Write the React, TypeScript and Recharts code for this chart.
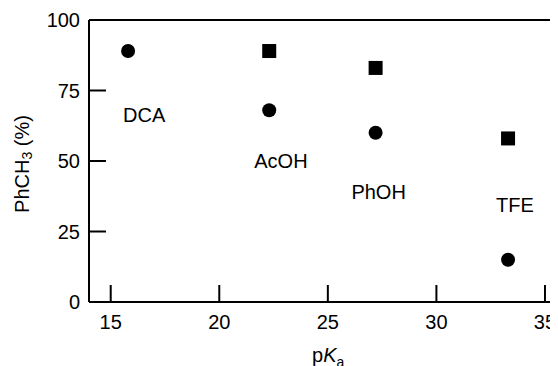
import React from "react";
import { ScatterChart, Scatter, XAxis, YAxis, ReferenceLine } from "recharts";

const solventNames = ["DCA", "AcOH", "PhOH", "TFE"];
const pKaValues = [15.8, 22.3, 27.2, 33.3];
const circleValues = [89, 68, 60, 15];
const squarePKa = [22.3, 27.2, 33.3];
const squareValues = [89, 83, 58];
const labelX = [16.54, 22.84, 27.34, 33.62];
const labelY = [66.2, 49.9, 39.0, 34.4];
const xTicks = [15, 20, 25, 30, 35];
const yTicks = [0, 25, 50, 75, 100];

const circleData = pKaValues.map((x, i) => ({ x, y: circleValues[i] }));
const squareData = squarePKa.map((x, i) => ({ x, y: squareValues[i] }));
const labelData = solventNames.map((name, i) => ({ x: labelX[i], y: labelY[i], name }));

const FONT = "'Liberation Sans', Arial, sans-serif";

const CircleShape = (p: any) => <circle cx={p.cx} cy={p.cy} r={7} fill="#000" />;
const SquareShape = (p: any) => <rect x={p.cx - 7} y={p.cy - 7} width={14} height={14} fill="#000" />;
const LabelShape = (p: any) => (
  <text x={p.cx} y={p.cy} textAnchor="middle" dominantBaseline="central" fontSize={20} fontFamily={FONT} fill="#000">
    {p.payload.name}
  </text>
);

const XTick = (p: any) => (
  <g>
    <line x1={p.x} y1={p.y} x2={p.x} y2={p.y - 17} stroke="#000" strokeWidth={2} />
    <text x={p.x} y={p.y + 20} textAnchor="middle" dominantBaseline="central" fontSize={20} fontFamily={FONT} fill="#000">
      {p.payload.value}
    </text>
  </g>
);

const YTick = (p: any) => (
  <g>
    <line x1={p.x} y1={p.y} x2={p.x + 17} y2={p.y} stroke="#000" strokeWidth={2} />
    <text x={p.x - 9} y={p.y} textAnchor="end" dominantBaseline="central" fontSize={20} fontFamily={FONT} fill="#000">
      {p.payload.value}
    </text>
  </g>
);

const XTitle = () => (
  <text x={304} y={354} fontSize={20} fontFamily={FONT} fill="#000">
    p<tspan fontStyle="italic">K</tspan>
    <tspan fontSize={14} dy={5}>a</tspan>
  </text>
);

const YTitle = () => (
  <text x={14} y={156} transform="rotate(-90 14 156)" textAnchor="middle" dominantBaseline="central" fontSize={20} fontFamily={FONT} fill="#000">
    PhCH<tspan fontSize={14} dy={5}>3</tspan>
    <tspan dy={-5}> (%)</tspan>
  </text>
);

export default function App() {
  return (
    <div>
      <style>{"html,body{overflow:hidden;}"}</style>
      <ScatterChart width={550} height={358} margin={{ top: 12, right: 0, bottom: 24, left: 21 }}>
        <XAxis
          type="number"
          dataKey="x"
          domain={[14, 35.6]}
          ticks={xTicks}
          allowDataOverflow
          height={40}
          tickSize={0}
          tickMargin={0}
          tickLine={false}
          axisLine={{ stroke: "#000", strokeWidth: 2 }}
          tick={<XTick />}
          label={{ content: () => <XTitle /> }}
        />
        <YAxis
          type="number"
          dataKey="y"
          domain={[0, 100]}
          ticks={yTicks}
          allowDataOverflow
          width={60}
          tickSize={0}
          tickMargin={0}
          tickLine={false}
          axisLine={{ stroke: "#000", strokeWidth: 2 }}
          tick={<YTick />}
          label={{ content: () => <YTitle /> }}
        />
        <ReferenceLine y={100} stroke="#000" strokeWidth={2} />
        <Scatter data={circleData} shape={CircleShape} isAnimationActive={false} />
        <Scatter data={squareData} shape={SquareShape} isAnimationActive={false} />
        <Scatter data={labelData} shape={LabelShape} isAnimationActive={false} />
      </ScatterChart>
    </div>
  );
}
